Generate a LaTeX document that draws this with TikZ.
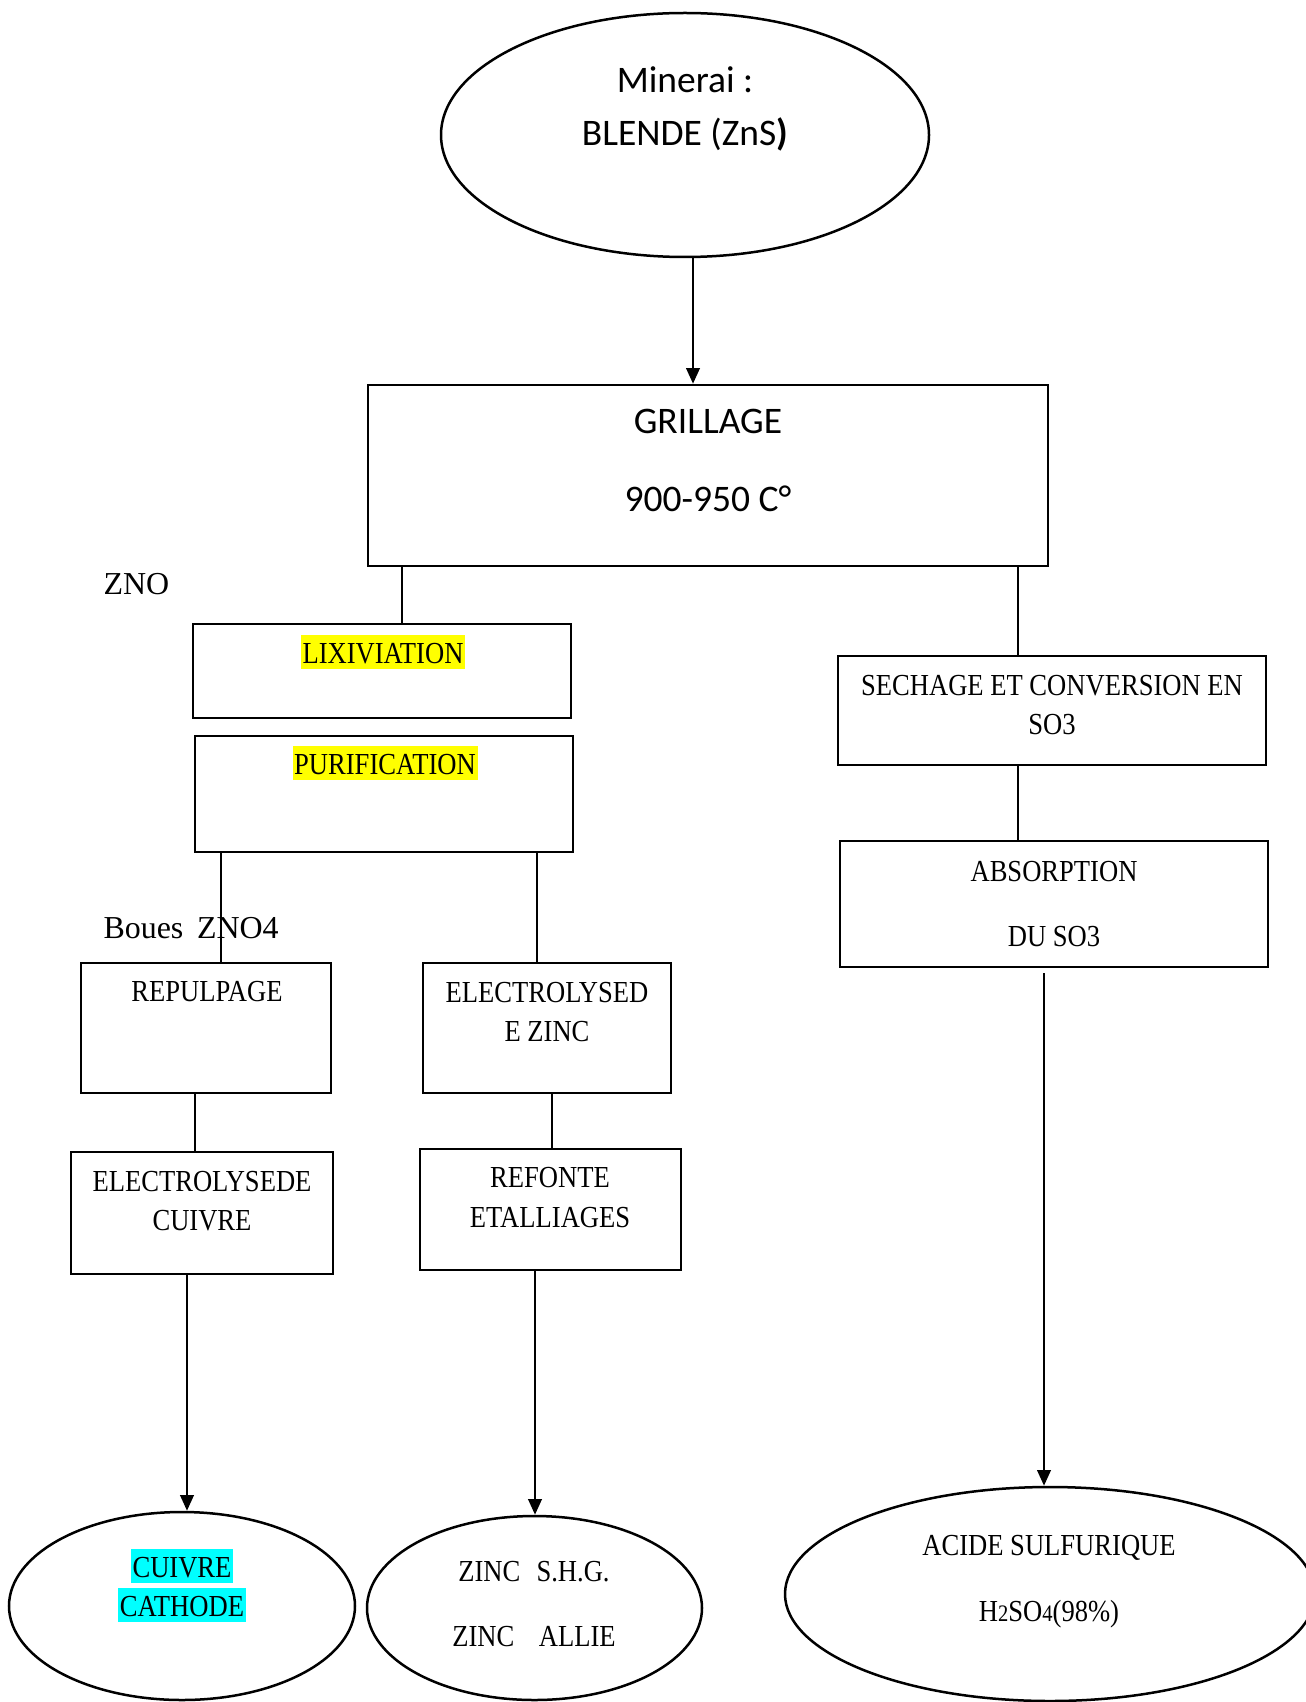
\documentclass[tikz,border=0pt]{standalone}
\usepackage{fontspec}
\setmainfont{Liberation Serif}
\newfontfamily\calfont{Carlito}
\newfontfamily\cambfont[FakeStretch=0.87]{Liberation Serif}
\usetikzlibrary{arrows.meta,shapes.geometric}
\definecolor{hlyellow}{RGB}{255,255,0}
\definecolor{hlcyan}{RGB}{0,255,255}
\tikzset{
  bx/.style 2 args={draw, line width=0.9pt, rectangle, inner sep=0pt,
     minimum width={#1*0.36pt}, minimum height={#2*0.36pt}},
  ell/.style 2 args={draw, line width=0.9pt, ellipse, inner sep=0pt,
     minimum width={#1*0.36pt}, minimum height={#2*0.36pt}},
  link/.style={line width=0.9pt},
  arr/.style={line width=0.9pt, -{Triangle[length=5.6pt,width=4.8pt]}},
  ctxt/.style={font=\calfont\fontsize{13.5}{16}\selectfont, inner sep=0pt, anchor=base},
  stxt/.style={font=\cambfont\fontsize{11}{13}\selectfont, inner sep=0pt, anchor=base},
  ttxt/.style={font=\fontsize{11.5}{13}\selectfont, inner sep=0pt, anchor=base west},
  hl/.style={stxt, fill=#1, inner xsep=0.6pt, inner ysep=0pt, text height=10.1pt, text depth=2.2pt},
}
\begin{document}
\begin{tikzpicture}[x=0.36pt, y=-0.36pt]
\useasboundingbox (0,0) rectangle (1305,1702);

% column coordinates
\coordinate (xa) at (693,0);
\coordinate (xb) at (402,0);
\coordinate (xc) at (1018,0);
\coordinate (xd) at (221,0);
\coordinate (xe) at (537,0);
\coordinate (xf) at (195,0);
\coordinate (xg) at (552,0);
\coordinate (xh) at (187,0);
\coordinate (xi) at (535,0);
\coordinate (xj) at (1044,0);

% shapes
\node[ell={488}{244}] (top) at (685,135) {};
\node[bx={680}{181}] (grill) at (708,475.5) {};
\node[bx={378}{94}] (lix) at (382,671) {};
\node[bx={378}{116}] (pur) at (384,794) {};
\node[bx={250}{130}] (rep) at (206,1028) {};
\node[bx={248}{130}] (elz) at (547,1028) {};
\node[bx={262}{122}] (elc) at (202,1213) {};
\node[bx={261}{121}] (ref) at (550.5,1209.5) {};
\node[bx={428}{109}] (sech) at (1052,710.5) {};
\node[bx={428}{126}] (abs) at (1054,904) {};
\node[ell={346}{188}] (cath) at (182,1606) {};
\node[ell={335}{184}] (zinc) at (534.5,1608) {};
\node[ell={530}{214}] (acid) at (1050,1594) {};

% texts
\node[ctxt] (t1) at (685,93) {Minerai :};
\node[ctxt] (t2) at (685,146) {BLENDE (ZnS\textbf{)}};
\node[ctxt] (t3) at (708,433) {GRILLAGE};
\node[ctxt] (t4) at (708,511) {900-950 C°};
\node[ttxt] (zno) at (103,594.5) {ZNO};
\node[ttxt] (boues) at (103,938.5) {Boues\hspace{4.9pt}ZNO4};
\node[hl=hlyellow] (lixt) at (383,663) {LIXIVIATION};
\node[hl=hlyellow] (purt) at (385,774) {PURIFICATION};
\node[stxt] (rept) at (207,1001) {REPULPAGE};
\node[stxt] (elzt1) at (547,1002) {ELECTROLYSED};
\node[stxt] (elzt2) at (547,1041) {E ZINC};
\node[stxt] (elct1) at (202,1191) {ELECTROLYSEDE};
\node[stxt] (elct2) at (202,1230) {CUIVRE};
\node[stxt] (reft1) at (550,1187) {REFONTE};
\node[stxt] (reft2) at (550,1227) {ETALLIAGES};
\node[stxt] (secht1) at (1052,695) {SECHAGE ET CONVERSION EN};
\node[stxt] (secht2) at (1052,734) {SO3};
\node[stxt] (abst1) at (1054,881) {ABSORPTION};
\node[stxt] (abst2) at (1054,946) {DU SO3};
\node[hl=hlcyan] (catht1) at (182,1577) {CUIVRE};
\node[hl=hlcyan] (catht2) at (182,1616) {CATHODE};
\node[stxt] (zinct1) at (534,1581) {ZINC\hspace{5.8pt}S.H.G.};
\node[stxt] (zinct2) at (534,1646) {ZINC\hspace{8.8pt}ALLIE};
\node[stxt] (acidt1) at (1049,1555) {ACIDE SULFURIQUE};
\node[stxt] (acidt2) at (1049,1621) {H{\fontsize{8.5}{9}\selectfont 2}SO{\fontsize{8.5}{9}\selectfont 4}(98\%)};

% connectors
\draw[arr] (top.south -| xa) -- (grill.north -| xa);
\draw[link] (grill.south -| xb) -- (lix.north -| xb);
\draw[link] (grill.south -| xc) -- (sech.north -| xc);
\draw[link] (sech.south -| xc) -- (abs.north -| xc);
\draw[link] (pur.south -| xd) -- (rep.north -| xd);
\draw[link] (pur.south -| xe) -- (elz.north -| xe);
\draw[link] (rep.south -| xf) -- (elc.north -| xf);
\draw[link] (elz.south -| xg) -- (ref.north -| xg);
\draw[arr] (elc.south -| xh) -- (cath.north -| xh);
\draw[arr] (ref.south -| xi) -- (zinc.north -| xi);
\draw[arr] ([yshift=-1.8pt]abs.south -| xj) -- (acid.north -| xj);
\end{tikzpicture}
\end{document}
